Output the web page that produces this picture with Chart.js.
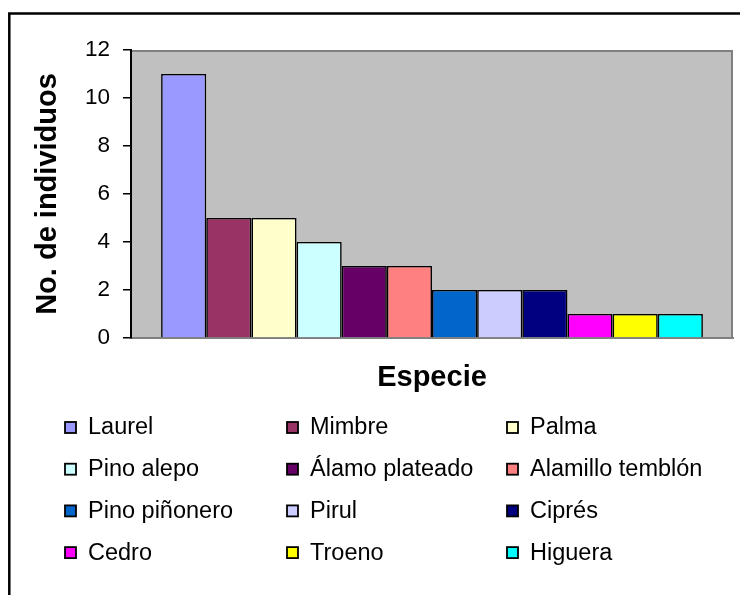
<!DOCTYPE html>
<html lang="es">
<head>
<meta charset="utf-8">
<title>No. de individuos por especie</title>
<script src="https://cdn.jsdelivr.net/npm/chart.js@4/dist/chart.umd.min.js"></script>
<style>
  html, body { margin: 0; padding: 0; background: #fff; }
  #wrap { width: 740px; height: 595px; }
</style>
</head>
<body>
<div id="wrap"><canvas id="chart" width="740" height="595"></canvas></div>
<script>
// Species and number of individuals counted for each
const species = ['Laurel', 'Mimbre', 'Palma', 'Pino alepo', 'Álamo plateado', 'Alamillo temblón',
                 'Pino piñonero', 'Pirul', 'Ciprés', 'Cedro', 'Troeno', 'Higuera'];
const counts = [11, 5, 5, 4, 3, 3, 2, 2, 2, 1, 1, 1];
const barColors = ['#9999FF', '#993366', '#FFFFCC', '#CCFFFF', '#660066', '#FF8080',
                   '#0066CC', '#CCCCFF', '#000080', '#FF00FF', '#FFFF00', '#00FFFF'];
const yTickValues = [0, 2, 4, 6, 8, 10, 12];

const FONT = "'Liberation Sans', Arial, sans-serif";

// One dataset per species, all sharing a single (unlabelled) category
const datasets = species.map((name, i) => ({
  label: name,
  data: [counts[i]],
  backgroundColor: barColors[i],
  borderColor: '#000',
  borderWidth: 1.6,
  categoryPercentage: 0.9,
  barPercentage: 1.0
}));

// Grey plot background with its frame, and the outer chart border
const plotFrame = {
  id: 'plotFrame',
  beforeDraw(chart) {
    const { ctx, chartArea: a } = chart;
    ctx.save();
    ctx.fillStyle = '#C0C0C0';
    ctx.fillRect(a.left, a.top, a.right - a.left, a.bottom - a.top);
    ctx.strokeStyle = '#808080';
    ctx.lineWidth = 2;
    ctx.beginPath();
    ctx.moveTo(a.left, a.top + 1);
    ctx.lineTo(a.right - 1, a.top + 1);
    ctx.lineTo(a.right - 1, a.bottom);
    ctx.stroke();
    ctx.strokeStyle = '#000';
    ctx.lineWidth = 2.5;
    ctx.strokeRect(9.3, 13.5, chart.width + 20, chart.height + 20);
    ctx.restore();
  }
};

// Three-column legend built from the chart's datasets
const gridLegend = {
  id: 'gridLegend',
  afterDraw(chart) {
    const { ctx } = chart;
    const colX = [65, 287, 507];
    const rowY0 = 428, rowStep = 41.7, box = 11, textGap = 23;
    ctx.save();
    ctx.font = '23.5px ' + FONT;
    ctx.textBaseline = 'middle';
    ctx.textAlign = 'left';
    chart.data.datasets.forEach((ds, i) => {
      const x = colX[i % 3];
      const y = rowY0 + Math.floor(i / 3) * rowStep;
      ctx.fillStyle = ds.backgroundColor;
      ctx.fillRect(x, y - box / 2 - 0.5, box, box);
      ctx.strokeStyle = '#000';
      ctx.lineWidth = 1.8;
      ctx.strokeRect(x, y - box / 2 - 0.5, box, box);
      ctx.fillStyle = '#000';
      ctx.fillText(ds.label, x + textGap, y);
    });
    ctx.restore();
  }
};

new Chart(document.getElementById('chart'), {
  type: 'bar',
  data: { labels: [''], datasets },
  plugins: [plotFrame, gridLegend],
  options: {
    responsive: false,
    animation: false,
    devicePixelRatio: 1,
    layout: { padding: { left: 0, top: 50, right: 7, bottom: 180 } },
    plugins: {
      legend: { display: false },
      tooltip: { enabled: false }
    },
    scales: {
      x: {
        ticks: { display: false },
        grid: { display: false, drawTicks: false },
        border: { display: true, color: '#808080', width: 2 },
        title: {
          display: true,
          text: 'Especie',
          color: '#000',
          font: { family: FONT, size: 29, weight: 'bold' },
          padding: { top: 0, bottom: 20 }
        },
        afterFit(scale) { scale.height = 77; }
      },
      y: {
        min: 0,
        max: 12,
        afterBuildTicks(scale) { scale.ticks = yTickValues.map(v => ({ value: v })); },
        ticks: {
          color: '#000',
          padding: 13,
          font: { family: FONT, size: 22.5 }
        },
        grid: {
          drawOnChartArea: false,
          drawTicks: true,
          tickLength: 8,
          color: '#000',
          lineWidth: 1.5
        },
        border: { display: true, color: '#000', width: 2 },
        title: {
          display: true,
          text: 'No. de individuos',
          color: '#000',
          font: { family: FONT, size: 29, weight: 'bold' },
          padding: { top: 31, bottom: 0 }
        },
        afterFit(scale) { scale.width = 131; }
      }
    }
  }
});
</script>
</body>
</html>
